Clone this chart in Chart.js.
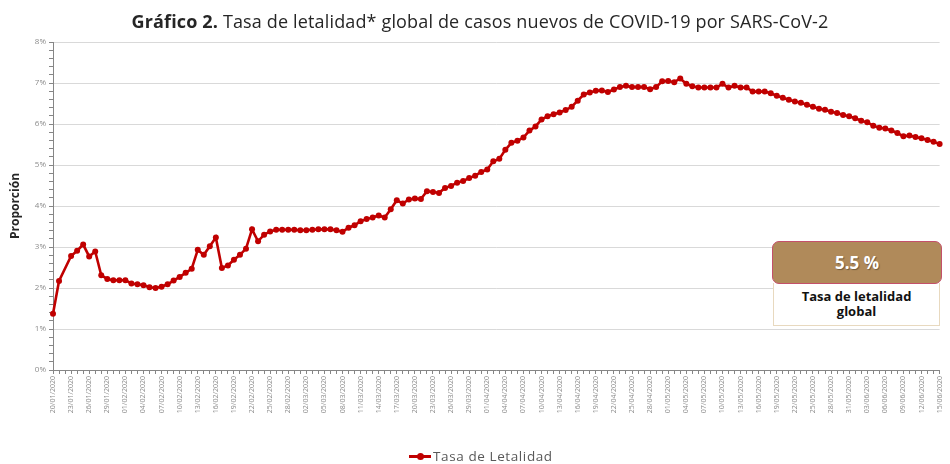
<!DOCTYPE html>
<html>
<head>
<meta charset="utf-8">
<script src="https://cdn.jsdelivr.net/npm/chart.js@4"></script>
<style>
    html, body { margin: 0; padding: 0; background: #fff; overflow: hidden; }
    #wrap { position: relative; width: 950px; height: 464px; font-family: "Open Sans", sans-serif; }
    #chartTitle { position: absolute; left: 0; top: 9px; width: 960px; text-align: center; font-size: 18px; letter-spacing: 0.15px; color: #262626; }
    #chartTitle b { font-weight: 700; }
    #legend { position: absolute; left: 409px; top: 447px; font-size: 13.5px; letter-spacing: 0.6px; color: #595959; display: flex; align-items: center; }
    #legend .mark { position: relative; width: 22px; height: 14px; margin-right: 2px; }
    #legend .mark::before { content: ""; position: absolute; left: 0; right: 0; top: 6px; height: 3px; background: #c00000; }
    #legend .mark::after { content: ""; position: absolute; left: 8px; top: 4px; width: 7px; height: 7px; border-radius: 50%; background: #c00000; }
    #rateBox { position: absolute; left: 772px; top: 241px; width: 168px; height: 41px; background: #b08a5a; border: 1.5px solid #c4506a; border-radius: 7px; color: #fff; font-weight: 700; font-size: 17px; text-align: center; line-height: 41px; text-shadow: 1px 1px 1px rgba(0,0,0,0.35); z-index: 2; }
    #rateLabel { position: absolute; left: 773px; top: 283px; width: 167px; height: 43px; border: 1px solid #e8d9bf; border-top: none; background: #fff; font-weight: 700; font-size: 13px; color: #111; text-align: center; line-height: 15px; padding-top: 6px; box-sizing: border-box; }
</style>
</head>
<body>
<div id="wrap">
    <canvas id="letalidadChart" width="950" height="464"></canvas>
    <div id="chartTitle"><b>Gráfico 2.</b> Tasa de letalidad* global de casos nuevos de COVID-19 por SARS-CoV-2</div>
    <div id="rateBox">5.5 %</div>
    <div id="rateLabel">Tasa de letalidad<br>global</div>
    <div id="legend"><span class="mark"></span>Tasa de Letalidad</div>
</div>
<script>
// Data (percent), one value per day from 20/01/2020
const startDay = new Date(2020, 0, 20);
const dayCount = 148;
const letalidad = [
    1.37, 2.17, null, 2.78, 2.91, 3.06, 2.77, 2.89, 2.31, 2.22,
    2.19, 2.19, 2.19, 2.11, 2.09, 2.07, 2.02, 2.00, 2.03, 2.09,
    2.18, 2.27, 2.37, 2.47, 2.93, 2.81, 3.02, 3.23, 2.49, 2.55,
    2.69, 2.81, 2.96, 3.43, 3.14, 3.30, 3.38, 3.42, 3.42, 3.42,
    3.42, 3.41, 3.41, 3.42, 3.43, 3.43, 3.43, 3.41, 3.37, 3.47,
    3.53, 3.63, 3.68, 3.72, 3.77, 3.72, 3.92, 4.14, 4.06, 4.16,
    4.18, 4.17, 4.36, 4.34, 4.32, 4.44, 4.49, 4.57, 4.61, 4.68,
    4.74, 4.83, 4.89, 5.09, 5.15, 5.37, 5.54, 5.59, 5.67, 5.84,
    5.94, 6.11, 6.19, 6.24, 6.28, 6.34, 6.42, 6.57, 6.72, 6.77,
    6.81, 6.82, 6.78, 6.84, 6.90, 6.93, 6.90, 6.90, 6.90, 6.85,
    6.90, 7.04, 7.05, 7.02, 7.11, 6.98, 6.92, 6.89, 6.89, 6.89,
    6.89, 6.98, 6.89, 6.93, 6.89, 6.89, 6.79, 6.79, 6.79, 6.75,
    6.69, 6.64, 6.59, 6.55, 6.52, 6.47, 6.42, 6.37, 6.35, 6.30,
    6.27, 6.22, 6.19, 6.14, 6.08, 6.04, 5.96, 5.91, 5.89, 5.84,
    5.78, 5.70, 5.72, 5.68, 5.65, 5.61, 5.57, 5.51
];
const yTickValues = [0, 1, 2, 3, 4, 5, 6, 7, 8];

// Daily date labels dd/mm/yyyy
const fechas = [];
for (let i = 0; i < dayCount; i++) {
    const d = new Date(startDay.getFullYear(), startDay.getMonth(), startDay.getDate() + i);
    const dd = String(d.getDate()).padStart(2, '0');
    const mm = String(d.getMonth() + 1).padStart(2, '0');
    fechas.push(dd + '/' + mm + '/' + d.getFullYear());
}

function isWhole(v) {
    return Math.abs(v - Math.round(v)) < 1e-6;
}

const ctx = document.getElementById('letalidadChart').getContext('2d');
const chart = new Chart(ctx, {
    type: 'line',
    data: {
        labels: fechas,
        datasets: [{
            label: 'Tasa de Letalidad',
            data: letalidad,
            borderColor: '#c00000',
            backgroundColor: '#c00000',
            borderWidth: 2.6,
            pointRadius: 3,
            pointBorderWidth: 0,
            pointBackgroundColor: '#c00000',
            spanGaps: true,
            tension: 0
        }]
    },
    options: {
        responsive: false,
        animation: false,
        layout: { padding: { top: 42, right: 3, left: 0, bottom: 0 } },
        plugins: {
            legend: { display: false },
            tooltip: { enabled: false }
        },
        scales: {
            x: {
                type: 'category',
                offset: false,
                afterFit: function(scale) { scale.height = 94; },
                border: { color: '#868686', width: 1 },
                grid: { drawOnChartArea: false, drawTicks: true, tickLength: 4, tickColor: '#868686' },
                ticks: {
                    autoSkip: false,
                    maxRotation: 90,
                    minRotation: 90,
                    padding: 2,
                    color: '#8c8c8c',
                    font: { family: 'Open Sans', size: 7 },
                    callback: function(val, i) { return i % 3 === 0 ? fechas[i] : ''; }
                }
            },
            y: {
                min: yTickValues[0],
                max: yTickValues[yTickValues.length - 1],
                afterFit: function(scale) { scale.width = 53; },
                border: { color: '#868686', width: 1 },
                grid: {
                    drawTicks: true,
                    tickLength: 4,
                    tickColor: '#868686',
                    color: function(c) { return c.tick && isWhole(c.tick.value) ? '#d9d9d9' : 'rgba(0,0,0,0)'; },
                    lineWidth: 1
                },
                ticks: {
                    stepSize: 0.2,
                    autoSkip: false,
                    padding: 3,
                    color: '#8c8c8c',
                    font: { family: 'Open Sans', size: 8 },
                    callback: function(v) { return isWhole(v) ? Math.round(v) + '%' : ''; }
                },
                title: {
                    display: true,
                    text: 'Proporción',
                    color: '#262626',
                    padding: { top: 8, bottom: 0 },
                    font: { family: 'Open Sans', size: 12, weight: 'bold' }
                }
            }
        }
    }
});
</script>
</body>
</html>
